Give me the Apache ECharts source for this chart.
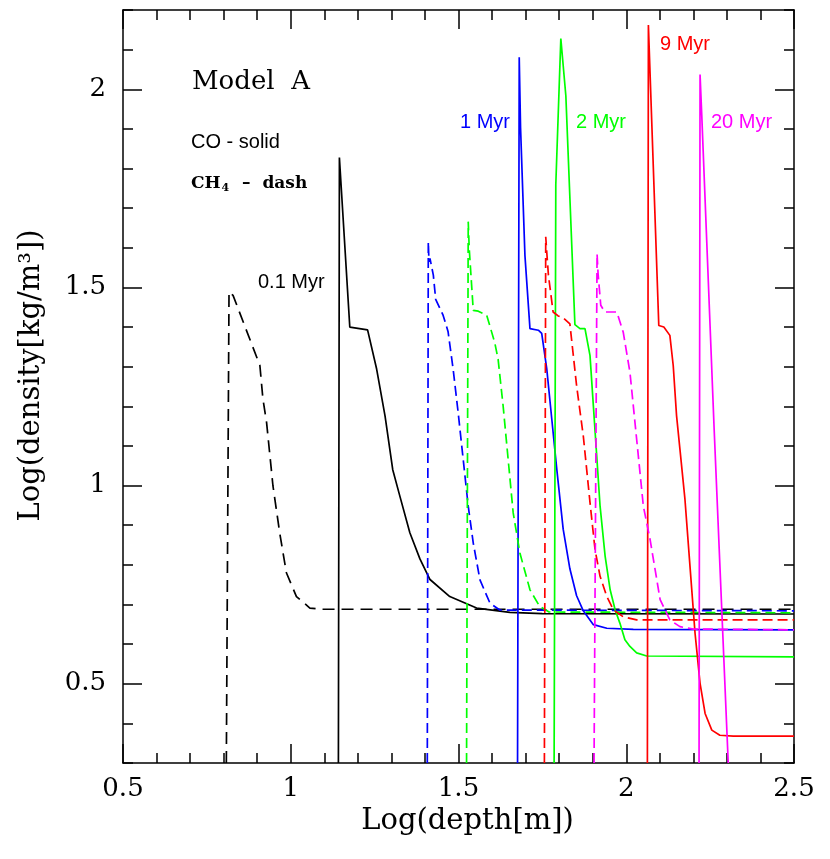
<!DOCTYPE html>
<html>
<head>
<meta charset="utf-8">
<title>Model A density profiles</title>
<script src="https://cdn.jsdelivr.net/npm/echarts@6.0.0/dist/echarts.min.js"></script>
<style>
  html, body { margin: 0; padding: 0; background: #fff; }
  #chart { width: 830px; height: 859px; }
</style>
</head>
<body>
<div id="chart"></div>
<script>
// [log depth, log density]
// CO profiles (solid)
const co01 = [[1.142,0.30],[1.145,1.828],[1.176,1.400],[1.229,1.393],[1.256,1.294],[1.281,1.176],[1.304,1.040],
  [1.325,0.974],[1.355,0.881],[1.385,0.815],[1.415,0.763],[1.474,0.720],[1.554,0.691],[1.653,0.680],[1.750,0.677],[2.500,0.676]];
const co1 = [[1.676,0.30],[1.681,2.081],[1.685,1.902],[1.698,1.581],[1.713,1.396],[1.738,1.392],[1.748,1.384],[1.763,1.295],
  [1.778,1.168],[1.793,1.041],[1.812,0.890],[1.832,0.790],[1.852,0.722],[1.872,0.684],[1.902,0.649],[1.942,0.640],[2.021,0.637],[2.500,0.636]];
const co2 = [[1.785,0.30],[1.790,1.759],[1.805,2.128],[1.820,1.983],[1.847,1.406],[1.862,1.396],[1.877,1.396],[1.892,1.328],
  [1.902,1.201],[1.912,1.075],[1.922,0.948],[1.937,0.822],[1.952,0.737],[1.967,0.686],[1.981,0.653],[1.996,0.611],
  [2.011,0.594],[2.031,0.578],[2.061,0.570],[2.500,0.568]];
const co9 = [[2.063,0.30],[2.066,2.162],[2.097,1.404],[2.112,1.400],[2.130,1.379],[2.140,1.303],[2.150,1.176],[2.160,1.092],
  [2.175,0.965],[2.190,0.796],[2.205,0.628],[2.220,0.501],[2.235,0.425],[2.255,0.383],[2.279,0.370],[2.319,0.368],[2.500,0.368]];
const co20 = [[2.217,0.30],[2.220,2.037],[2.225,1.936],[2.262,1.142],[2.304,0.30]];

// CH4 profiles (dashed)
const ch01 = [[0.808,0.30],[0.816,1.489],[0.828,1.480],[0.908,1.303],[0.917,1.219],[0.928,1.159],[0.947,0.999],[0.967,0.881],
  [0.987,0.780],[1.017,0.720],[1.057,0.691],[1.087,0.688],[2.500,0.688]];
const ch1 = [[1.407,0.30],[1.410,1.615],[1.412,1.565],[1.415,1.573],[1.425,1.531],[1.432,1.470],[1.454,1.430],[1.462,1.408],
  [1.469,1.388],[1.484,1.294],[1.499,1.184],[1.514,1.066],[1.529,0.948],[1.544,0.855],[1.564,0.762],[1.594,0.703],[1.623,0.686],[2.500,0.684]];
const ch2 = [[1.524,0.30],[1.529,1.666],[1.532,1.598],[1.544,1.442],[1.559,1.440],[1.584,1.430],[1.608,1.361],[1.618,1.319],
  [1.633,1.201],[1.648,1.066],[1.663,0.931],[1.683,0.830],[1.713,0.737],[1.742,0.695],[1.770,0.681],[2.500,0.679]];
const ch9 = [[1.756,0.30],[1.760,1.628],[1.763,1.590],[1.768,1.531],[1.782,1.438],[1.797,1.428],[1.812,1.423],[1.832,1.408],
  [1.852,1.252],[1.872,1.125],[1.892,0.957],[1.907,0.838],[1.922,0.771],[1.942,0.720],[1.962,0.686],[1.991,0.669],[2.031,0.661],[2.500,0.661]];
const ch20 = [[1.904,0.30],[1.913,1.585],[1.916,1.535],[1.924,1.455],[1.936,1.438],[1.972,1.438],[1.991,1.387],[2.011,1.286],
  [2.031,1.117],[2.051,0.948],[2.071,0.864],[2.101,0.712],[2.130,0.661],[2.160,0.644],[2.200,0.638],[2.500,0.636]];

const yMajor = [0.5, 1, 1.5, 2];

const serif = 'DejaVu Serif';
const sans = 'Liberation Sans';

function line(name, data, color, dashed) {
    let dash = color === '#000000' ? [12, 7] : [10, 5];
    return {
        name: name,
        type: 'line',
        data: data,
        showSymbol: false,
        symbol: 'none',
        xAxisIndex: 0,
        yAxisIndex: 0,
        lineStyle: { color: color, width: 1.7, type: dashed ? dash : 'solid' },
        z: 3
    };
}

// box axes: ticks inside on all four sides
function xAx(pos, labels) {
    return {
        type: 'value', position: pos, min: 0.5, max: 2.5, interval: 0.5,
        axisLine: { show: true, onZero: false, lineStyle: { color: '#000', width: 1.5 } },
        axisTick: { show: true, inside: true, length: 19, lineStyle: { color: '#000', width: 1.5 } },
        minorTick: { show: true, splitNumber: 5, length: 10, lineStyle: { color: '#000', width: 1.5 } },
        axisLabel: {
            show: labels, margin: 13, color: '#000', fontFamily: serif, fontSize: 26,
            showMinLabel: true, showMaxLabel: true,
            formatter: v => String(+v.toFixed(1))
        },
        splitLine: { show: false },
        name: labels ? 'Log(depth[m])' : '',
        nameLocation: 'middle', nameGap: 43,
        nameTextStyle: { color: '#000', fontFamily: serif, fontSize: 29, padding: [0, 0, 0, 18] }
    };
}

function yMajorAx(pos, labels) {
    return {
        type: 'value', position: pos, min: 0.3, max: 2.2,
        axisLine: { show: true, onZero: false, lineStyle: { color: '#000', width: 1.5 } },
        axisTick: { show: true, inside: true, length: 19, customValues: yMajor, lineStyle: { color: '#000', width: 1.5 } },
        axisLabel: {
            show: labels, margin: 17, color: '#000', fontFamily: serif, fontSize: 26,
            customValues: yMajor,
            formatter: v => String(+v.toFixed(1))
        },
        splitLine: { show: false },
        name: labels ? 'Log(density[kg/m³])' : '',
        nameLocation: 'middle', nameGap: 77,
        nameTextStyle: { color: '#000', fontFamily: serif, fontSize: 29, padding: [0, 0, 0, 22] }
    };
}

function yMinorAx(pos) {
    return {
        type: 'value', position: pos, min: 0.3, max: 2.2, interval: 0.1,
        axisLine: { show: false, onZero: false },
        axisTick: { show: true, inside: true, length: 10, lineStyle: { color: '#000', width: 1.5 } },
        axisLabel: { show: false },
        splitLine: { show: false }
    };
}

function label(text, x, y, color, font) {
    return {
        type: 'text', x: x, y: y, z: 10,
        style: { text: text, fill: color, font: font, align: 'left', verticalAlign: 'middle' }
    };
}

let myChart = echarts.init(document.getElementById('chart'), null, { renderer: 'canvas' });
myChart.setOption({
    animation: false,
    backgroundColor: '#fff',
    grid: { left: 123, right: 36, top: 10, bottom: 96, containLabel: false, outerBoundsMode: 'none' },
    xAxis: [xAx('bottom', true), xAx('top', false)],
    yAxis: [yMajorAx('left', true), yMinorAx('left'), yMajorAx('right', false), yMinorAx('right')],
    series: [
        line('0.1 Myr CH4', ch01, '#000000', true),
        line('0.1 Myr CO', co01, '#000000', false),
        line('1 Myr CH4', ch1, '#0000ff', true),
        line('1 Myr CO', co1, '#0000ff', false),
        line('2 Myr CH4', ch2, '#00ff00', true),
        line('2 Myr CO', co2, '#00ff00', false),
        line('9 Myr CH4', ch9, '#ff0000', true),
        line('9 Myr CO', co9, '#ff0000', false),
        line('20 Myr CH4', ch20, '#ff00ff', true),
        line('20 Myr CO', co20, '#ff00ff', false)
    ],
    graphic: [
        label('Model  A', 192, 82, '#000', '26px "' + serif + '"'),
        label('CO - solid', 191, 142, '#000', '20px "' + sans + '"'),
        {
            type: 'text', x: 191, y: 184, z: 10,
            style: {
                text: '{b|CH}{s|4}{b|  –  dash}',
                fill: '#000', align: 'left', verticalAlign: 'middle',
                rich: {
                    b: { font: 'bold 17px "' + serif + '"', fill: '#000' },
                    s: { font: 'bold 11px "' + serif + '"', fill: '#000', padding: [9, 1, 0, 1] }
                }
            }
        },
        label('0.1 Myr', 258, 282, '#000', '20px "' + sans + '"'),
        label('1 Myr', 460, 122, '#0000ff', '20px "' + sans + '"'),
        label('2 Myr', 576, 122, '#00ff00', '20px "' + sans + '"'),
        label('9 Myr', 660, 44, '#ff0000', '20px "' + sans + '"'),
        label('20 Myr', 711, 122, '#ff00ff', '20px "' + sans + '"')
    ]
});
</script>
</body>
</html>
